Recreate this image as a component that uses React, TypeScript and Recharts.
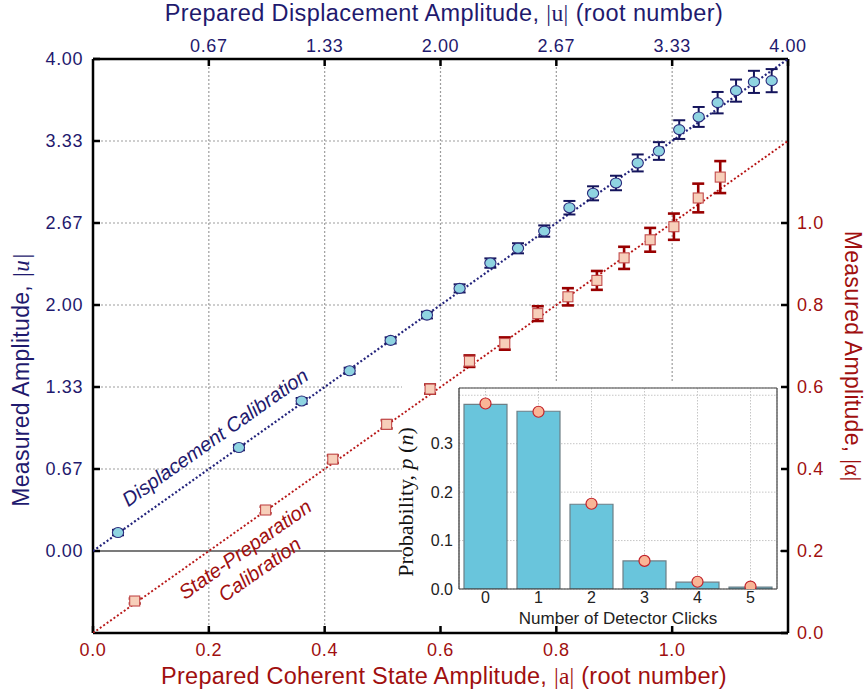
import {
  ComposedChart, Scatter, ErrorBar, Line, Bar, XAxis, YAxis,
  CartesianGrid, ReferenceLine,
} from "recharts"

const NAVY = "#1f1a6e"
const RED = "#a00f0f"
const SANS = "Arial, 'Liberation Sans', sans-serif"
const SERIF = "'Times New Roman', 'Liberation Serif', serif"

// displacement calibration: prepared |u| (top axis) vs measured |u| (left axis)
const dispPrepared = [0.144, 0.840, 1.201, 1.477, 1.713, 1.922, 2.110, 2.287, 2.446, 2.597, 2.742, 2.878, 3.010, 3.135, 3.257, 3.374, 3.486, 3.595, 3.701, 3.804, 3.906]
const dispMeasured = [0.150, 0.841, 1.220, 1.465, 1.712, 1.918, 2.135, 2.341, 2.461, 2.601, 2.791, 2.908, 2.992, 3.155, 3.252, 3.426, 3.529, 3.645, 3.743, 3.814, 3.824]
const dispError = [0.022, 0.022, 0.024, 0.025, 0.025, 0.027, 0.033, 0.038, 0.041, 0.046, 0.055, 0.057, 0.059, 0.069, 0.072, 0.076, 0.081, 0.087, 0.09, 0.09, 0.094]

// state-preparation calibration: prepared |a| (bottom axis) vs measured |alpha| (right axis)
const statePrepared = [0.072, 0.298, 0.414, 0.507, 0.582, 0.650, 0.711, 0.768, 0.820, 0.870, 0.917, 0.962, 1.003, 1.045, 1.083]
const stateMeasured = [0.078, 0.300, 0.424, 0.509, 0.595, 0.663, 0.706, 0.779, 0.820, 0.860, 0.915, 0.959, 0.991, 1.061, 1.112]
const stateError = [0.006, 0.008, 0.009, 0.01, 0.011, 0.014, 0.015, 0.018, 0.021, 0.023, 0.027, 0.029, 0.032, 0.035, 0.039]

// inset: detector click statistics
const clicks = ["0", "1", "2", "3", "4", "5"]
const clickMeasured = [0.381, 0.367, 0.175, 0.058, 0.014, 0.004]
const clickPoisson = [0.383, 0.366, 0.176, 0.058, 0.015, 0.005]

const uDomain = [0, 4]
const uMeasuredDomain = [-2 / 3, 4]
const aDomain = [0, 1.2]
const alphaDomain = [0, 1.4]
const uTicks = [0, 2 / 3, 4 / 3, 2, 8 / 3, 10 / 3, 4]
const topTicks = uTicks.slice(1)
const aTicks = [0, 0.2, 0.4, 0.6, 0.8, 1.0]
const alphaTicks = [0, 0.2, 0.4, 0.6, 0.8, 1.0]
const probTicks = [0, 0.1, 0.2, 0.3, 0.4]

const dispPoints = dispPrepared.map((x, i) => ({ x, y: dispMeasured[i], err: dispError[i] }))
const statePoints = statePrepared.map((x, i) => ({ x, y: stateMeasured[i], err: stateError[i] }))
const dispFit = uDomain.map((v) => ({ x: v, y: v }))
const stateFit = aDomain.map((v) => ({ x: v, y: v }))
const clickRows = clicks.map((n, i) => ({ n, measured: clickMeasured[i], poisson: clickPoisson[i] }))

const frame = { stroke: "#000", strokeWidth: 2.5 }
const tickFont = { fontSize: 18, letterSpacing: 0.6 }

const BlueDot = (p: any) => (
  <ellipse cx={p.cx} cy={p.cy} rx={5.6} ry={5} fill="#8fd4e1" stroke="#2b2b7c" strokeWidth={1.1} />
)
const RedSquare = (p: any) => (
  <rect x={p.cx - 5} y={p.cy - 5} width={10} height={10} fill="#f7cfba" stroke="#c24a4a" strokeWidth={1.1} />
)

// The main plot is drawn in two stacked layers: grid + axes underneath,
// data on top, so the inset's white panel hides the grid but not the data.
function MainLayer({ part }: { part: "base" | "data" }) {
  const base = part === "base"
  const axisLine = base ? frame : false
  const tickLine = base ? frame : false
  return (
    <div style={{ position: "absolute", left: 0, top: 0 }}>
      <ComposedChart width={867} height={696} margin={{ top: 0, right: 0, bottom: 0, left: 0 }}>
        {base && <CartesianGrid xAxisId="top" yAxisId="left" stroke="#9d9d9d" strokeDasharray="2 2" strokeWidth={1.2} />}
        <XAxis xAxisId="top" orientation="top" type="number" dataKey="x" height={59}
          domain={uDomain} ticks={topTicks} interval={0} allowDataOverflow
          tickFormatter={(v: number) => v.toFixed(2)} tickSize={-7} tickMargin={14}
          axisLine={axisLine} tickLine={tickLine} tick={base ? { fill: NAVY, ...tickFont } : false} />
        <XAxis xAxisId="bottom" orientation="bottom" type="number" dataKey="x" height={63}
          domain={aDomain} ticks={aTicks} interval={0} allowDataOverflow
          tickFormatter={(v: number) => v.toFixed(1)} tickSize={-7} tickMargin={17}
          axisLine={axisLine} tickLine={tickLine} tick={base ? { fill: RED, ...tickFont } : false} />
        <YAxis yAxisId="left" orientation="left" type="number" dataKey="y" width={93}
          domain={uMeasuredDomain} ticks={uTicks} interval={0} allowDataOverflow
          tickFormatter={(v: number) => v.toFixed(2)} tickSize={-7} tickMargin={17}
          axisLine={axisLine} tickLine={tickLine} tick={base ? { fill: NAVY, ...tickFont } : false} />
        <YAxis yAxisId="right" orientation="right" type="number" dataKey="y" width={79}
          domain={alphaDomain} ticks={alphaTicks} interval={0} allowDataOverflow
          tickFormatter={(v: number) => v.toFixed(1)} tickSize={-7} tickMargin={16}
          axisLine={axisLine} tickLine={tickLine} tick={base ? { fill: RED, ...tickFont } : false} />
        {base && <ReferenceLine xAxisId="top" yAxisId="left" y={0} stroke="#7b7b7b" strokeWidth={2} />}
        {!base && (
          <Line xAxisId="top" yAxisId="left" data={dispFit} dataKey="y" dot={false} activeDot={false}
            stroke="#24247c" strokeWidth={2.2} strokeDasharray="2 2.2" isAnimationActive={false} />
        )}
        {!base && (
          <Line xAxisId="bottom" yAxisId="right" data={stateFit} dataKey="y" dot={false} activeDot={false}
            stroke="#b81818" strokeWidth={1.9} strokeDasharray="2 2.2" isAnimationActive={false} />
        )}
        {!base && (
          <Scatter xAxisId="top" yAxisId="left" data={dispPoints} shape={BlueDot} isAnimationActive={false}>
            <ErrorBar dataKey="err" direction="y" width={6} stroke="#14145c" strokeWidth={2} isAnimationActive={false} />
          </Scatter>
        )}
        {!base && (
          <Scatter xAxisId="bottom" yAxisId="right" data={statePoints} shape={RedSquare} isAnimationActive={false}>
            <ErrorBar dataKey="err" direction="y" width={6} stroke="#990000" strokeWidth={2.6} isAnimationActive={false} />
          </Scatter>
        )}
      </ComposedChart>
    </div>
  )
}

function Inset() {
  return (
    <div style={{ position: "absolute", left: 402, top: 383, width: 378, height: 250 }}>
      <ComposedChart width={378} height={250} data={clickRows} margin={{ top: 4, right: 2, bottom: 7, left: 0 }}>
        <CartesianGrid xAxisId="b" yAxisId="l" stroke="#c6c6c6" strokeDasharray="1.5 1.5" />
        <XAxis xAxisId="b" dataKey="n" height={37} interval={0} tickSize={0} tickMargin={3}
          axisLine={{ stroke: "#333", strokeWidth: 1.2 }} tickLine={false}
          tick={{ fill: "#222", fontSize: 16 }}
          label={{ value: "Number of Detector Clicks", position: "insideBottom", offset: 2, fill: "#222", fontSize: 17 }} />
        <XAxis xAxisId="t" dataKey="n" orientation="top" height={1} interval={0} tickSize={-5}
          axisLine={{ stroke: "#444", strokeWidth: 1.2 }} tickLine={{ stroke: "#333" }} tick={false} />
        <YAxis yAxisId="l" type="number" width={57} domain={[0, 0.415]} ticks={probTicks} interval={0}
          allowDataOverflow tickSize={0} tickMargin={6} tickLine={false}
          axisLine={{ stroke: "#333", strokeWidth: 1.2 }}
          tickFormatter={(v: number) => (v > 0.35 ? "" : v.toFixed(1))}
          tick={{ fill: "#222", fontSize: 16 }} />
        <YAxis yAxisId="r" type="number" orientation="right" width={1} domain={[0, 0.415]} ticks={probTicks}
          interval={0} allowDataOverflow tickSize={-5} tick={false}
          axisLine={{ stroke: "#444", strokeWidth: 1.2 }} tickLine={{ stroke: "#333" }} />
        <Bar xAxisId="b" yAxisId="l" dataKey="measured" barSize={43} fill="#69c5dc"
          stroke="#6d7f86" strokeWidth={1.2} isAnimationActive={false} />
        <Line xAxisId="b" yAxisId="l" dataKey="poisson" stroke="none" isAnimationActive={false}
          dot={{ r: 5.5, fill: "#f9b596", stroke: "#c2222a", strokeWidth: 1.2 }} activeDot={false} />
      </ComposedChart>
    </div>
  )
}

function Annotations() {
  return (
    <svg width={867} height={696} style={{ position: "absolute", left: 0, top: 0, pointerEvents: "none" }}
      fontFamily={SANS} xmlSpace="preserve">
      <text x={444} y={21} textAnchor="middle" fontSize={23.5} fill={NAVY} letterSpacing={0.4}>
        Prepared Displacement Amplitude, <tspan fontFamily={SERIF}>|u|</tspan>  (root number)
      </text>
      <text x={444} y={684} textAnchor="middle" fontSize={23.5} fill={RED} letterSpacing={0.25}>
        Prepared Coherent State Amplitude, <tspan fontFamily={SERIF}>|a|</tspan> (root number)
      </text>
      <text transform="translate(29 380) rotate(-90)" textAnchor="middle" fontSize={23} fill={NAVY} letterSpacing={0.3}>
        Measured Amplitude, <tspan fontFamily={SERIF} fontStyle="italic">|u|</tspan>
      </text>
      <text transform="translate(845 356) rotate(90)" textAnchor="middle" fontSize={23} fill={RED} letterSpacing={0.3}>
        Measured Amplitude, <tspan fontFamily={SERIF}>|α|</tspan>
      </text>
      <text transform="translate(219 443) rotate(-35.3)" textAnchor="middle" fontSize={20}
        fontStyle="italic" fill={NAVY}>
        Displacement Calibration
      </text>
      <text transform="translate(249 555) rotate(-35.2)" textAnchor="middle" fontSize={20}
        fontStyle="italic" fill={RED}>
        State-Preparation
      </text>
      <text transform="translate(263.5 575) rotate(-35.2)" textAnchor="middle" fontSize={20}
        fontStyle="italic" fill={RED}>
        Calibration
      </text>
      <text transform="translate(413 502) rotate(-90)" textAnchor="middle" fontSize={22} fontFamily={SERIF} fill="#111">
        Probability,  <tspan fontStyle="italic">p</tspan> (<tspan fontStyle="italic">n</tspan>)
      </text>
    </svg>
  )
}

export default function App() {
  return (
    <div style={{ position: "absolute", left: 0, top: 0, width: 867, height: 696, background: "#fff", fontFamily: SANS }}>
      <MainLayer part="base" />
      <div style={{ position: "absolute", left: 402, top: 383, width: 378, height: 243, background: "#fff" }} />
      <MainLayer part="data" />
      <Inset />
      <Annotations />
    </div>
  )
}
